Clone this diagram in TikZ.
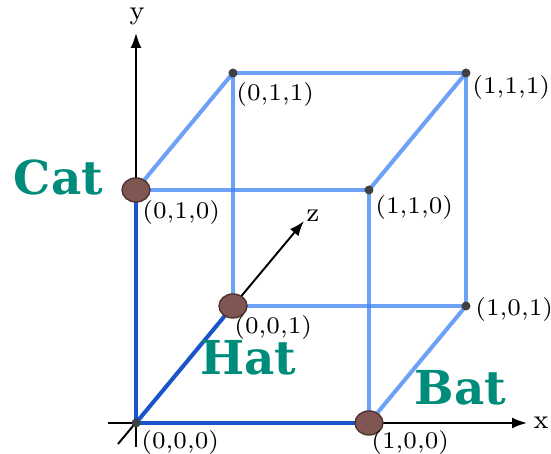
\documentclass[tikz,border=0pt]{standalone}
\usepackage{fontspec}
\newfontfamily\slab{DejaVu Serif}
\usetikzlibrary{positioning,shapes.geometric,arrows.meta}
\definecolor{azulclaro}{RGB}{60,130,245}
\definecolor{azuloscuro}{RGB}{25,85,200}
\definecolor{cafe}{RGB}{128,86,82}
\definecolor{verde}{RGB}{0,140,122}
\begin{document}
\begin{tikzpicture}[
        eje/.style={line width=0.55pt, -{Latex[length=1.5mm,width=1.1mm]}},
        arista/.style={line width=1.15pt, azulclaro, draw opacity=0.75},
        base/.style={line width=1.15pt, azuloscuro},
        punto/.style={circle, fill=black!75, inner sep=0pt, minimum size=0.09cm},
        bola/.style={ellipse, draw=cafe!60!black, line width=0.4pt, fill=cafe,
        inner sep=0pt, minimum width=0.28cm, minimum height=0.24cm},
        etiq/.style={font=\fontsize{6.8}{8}\selectfont, inner sep=0.5pt},
        letra/.style={font=\fontsize{7.6}{9}\selectfont, inner sep=0.5pt},
        palabra/.style={font=\slab\bfseries\fontsize{13.3}{15}\selectfont,
        text=verde, anchor=base, inner sep=0pt}
    ]
        \useasboundingbox (-1.36,-0.31) rectangle (4.15,4.23);
        % vertices del cubo
        \coordinate (v000) at (0,0);
        \coordinate (v100) at (2.33,0);
        \coordinate (v010) at (0,2.33);
        \coordinate (v110) at (2.33,2.33);
        \coordinate (v001) at (0.97,1.17);
        \coordinate (v101) at (3.30,1.17);
        \coordinate (v011) at (0.97,3.50);
        \coordinate (v111) at (3.30,3.50);
        % ejes
        \coordinate (ex0) at (-0.28,0);
        \coordinate (ex1) at (3.91,0);
        \coordinate (ey0) at (0,-0.24);
        \coordinate (ey1) at (0,3.90);
        \coordinate (ez0) at (-0.18,-0.21);
        \coordinate (ez1) at (1.68,2.02);
        \draw[eje] (ex0) -- (ex1);
        \draw[eje] (ey0) -- (ey1);
        \draw[eje] (ez0) -- (ez1);
        \node[letra] (lx) at (4.05,0) {x};
        \node[letra] (ly) at (0.01,4.07) {y};
        \node[letra] (lz) at (1.77,2.07) {z};
        % aristas
        \draw[arista] (v010) -- (v110);
        \draw[arista] (v110) -- (v100);
        \draw[arista] (v001) -- (v101);
        \draw[arista] (v001) -- (v011);
        \draw[arista] (v011) -- (v111);
        \draw[arista] (v111) -- (v101);
        \draw[arista] (v010) -- (v011);
        \draw[arista] (v110) -- (v111);
        \draw[arista] (v100) -- (v101);
        \draw[base] (v000) -- (v100);
        \draw[base] (v000) -- (v010);
        \draw[base] (v000) -- (v001);
        % puntos
        \node[punto] (p000) at (v000) {};
        \node[punto] (p110) at (v110) {};
        \node[punto] (p101) at (v101) {};
        \node[punto] (p011) at (v011) {};
        \node[punto] (p111) at (v111) {};
        \node[bola] (b100) at (v100) {};
        \node[bola] (b010) at (v010) {};
        \node[bola] (b001) at (v001) {};
        % etiquetas
        \node[etiq, below right=0.05cm and 0.03cm of v000] (l000) {(0,0,0)};
        \node[etiq, below right=0.05cm and 0.0cm of v100] (l100) {(1,0,0)};
        \node[etiq, below right=0.08cm and 0.04cm of v010] (l010) {(0,1,0)};
        \node[etiq, below right=0.07cm and -0.01cm of v001] (l001) {(0,0,1)};
        \node[etiq, below right=0.03cm and 0.04cm of v110] (l110) {(1,1,0)};
        \node[etiq, anchor=west] (l101) at (3.37,1.13) {(1,0,1)};
        \node[etiq, below right=0.07cm and 0.01cm of v011] (l011) {(0,1,1)};
        \node[etiq, below right=0.0cm and 0.04cm of v111] (l111) {(1,1,1)};
        \node[palabra] (cat) at (-0.775,2.28) {Cat};
        \node[palabra] (hat) at (1.125,0.48) {Hat};
        \node[palabra] (bat) at (3.245,0.18) {Bat};
    \end{tikzpicture}
\end{document}
